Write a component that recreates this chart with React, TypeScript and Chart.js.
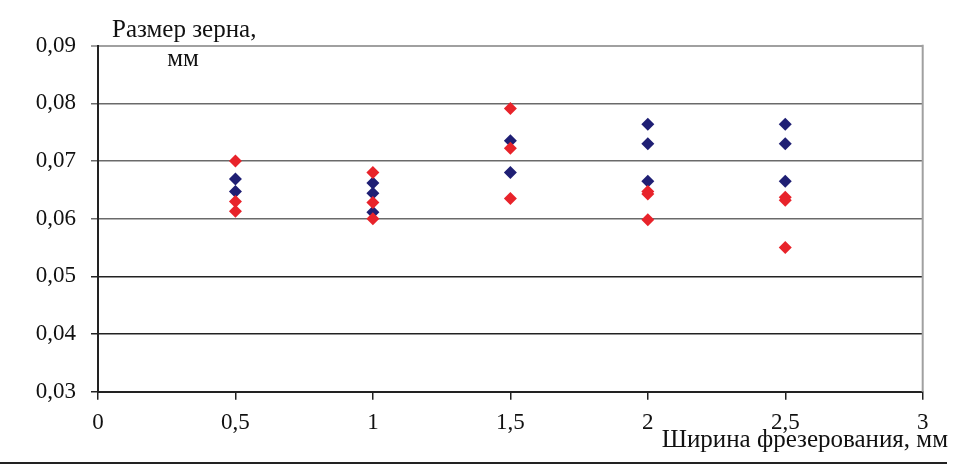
import React, { useEffect, useRef } from "react";
import { Chart, registerables } from "chart.js";

Chart.register(...registerables);

const xBlue = [0.5, 0.5, 1, 1, 1, 1.5, 1.5, 2, 2, 2, 2.5, 2.5, 2.5];
const yBlue = [0.0669, 0.0647, 0.0662, 0.0644, 0.0611, 0.0735, 0.068, 0.0764, 0.073, 0.0665, 0.0764, 0.073, 0.0665];
const xRed = [0.5, 0.5, 0.5, 1, 1, 1, 1.5, 1.5, 1.5, 2, 2, 2, 2.5, 2.5, 2.5];
const yRed = [0.07, 0.063, 0.0613, 0.068, 0.0628, 0.06, 0.0791, 0.0722, 0.0635, 0.0647, 0.0643, 0.0598, 0.0637, 0.0632, 0.055];
const yTitle = ["Размер зерна,", "мм"];
const xTitle = "Ширина фрезерования, мм";

const FONT = "'Liberation Serif', 'Times New Roman', serif";

export default function App() {
  const ref = useRef<HTMLCanvasElement | null>(null);
  useEffect(() => {
    document.body.style.margin = "0";
    const canvas = ref.current!;
    const extras = {
      id: "extras",
      afterDraw(chart: any) {
        const ctx = chart.ctx;
        const a = chart.chartArea;
        ctx.save();
        ctx.strokeStyle = "#a0a0a0";
        ctx.lineWidth = 2;
        ctx.beginPath();
        ctx.moveTo(a.right, a.top - 1);
        ctx.lineTo(a.right, a.bottom);
        ctx.stroke();
        ctx.strokeStyle = "#222";
        ctx.lineWidth = 2;
        ctx.beginPath();
        ctx.moveTo(0, 463);
        ctx.lineTo(947, 463);
        ctx.stroke();
        ctx.fillStyle = "#111";
        ctx.font = "25px " + FONT;
        ctx.textBaseline = "alphabetic";
        ctx.textAlign = "left";
        ctx.fillText(yTitle[0], 112, 37);
        ctx.textAlign = "center";
        ctx.fillText(yTitle[1], 183, 66);
        ctx.textAlign = "right";
        ctx.fillText(xTitle, 948, 447);
        ctx.restore();
      },
    };
    const chart = new Chart(canvas, {
      type: "scatter",
      data: {
        datasets: [
          {
            label: "red",
            data: xRed.map((x, i) => ({ x, y: yRed[i] })),
            backgroundColor: "#e8232a",
            borderColor: "#e8232a",
            pointStyle: "rectRot",
            pointRadius: 6.5,
            borderWidth: 0,
          },
          {
            label: "blue",
            data: xBlue.map((x, i) => ({ x, y: yBlue[i] })),
            backgroundColor: "#1f1f74",
            borderColor: "#1f1f74",
            pointStyle: "rectRot",
            pointRadius: 6.5,
            borderWidth: 0,
          },
        ],
      },
      options: {
        animation: false,
        responsive: false,
        layout: { padding: { left: 0, top: 45.7, right: 44.3, bottom: 0 } },
        plugins: { legend: { display: false }, tooltip: { enabled: false } },
        scales: {
          x: {
            type: "linear",
            min: 0,
            max: 3,
            afterFit: (s: any) => {
              s.height = 73.3;
            },
            ticks: {
              stepSize: 0.5,
              color: "#111",
              font: { family: FONT, size: 23 },
              padding: 9,
              maxRotation: 0,
              callback: (v: any) => String(v).replace(".", ","),
            },
            grid: { drawOnChartArea: false, drawTicks: true, tickLength: 8, color: "#222", lineWidth: 1.5 },
            border: { color: "#222", width: 2 },
          },
          y: {
            min: 0.03,
            max: 0.09,
            afterFit: (s: any) => {
              s.width = 98;
            },
            ticks: {
              stepSize: 0.01,
              color: "#111",
              font: { family: FONT, size: 23 },
              padding: 15,
              callback: (v: any) => Number(v).toFixed(2).replace(".", ","),
            },
            grid: {
              tickLength: 7,
              color: (c: any) => {
                const v = Math.round((c.tick?.value ?? 0) * 100);
                if (v === 9) return "#a0a0a0";
                if (v >= 6) return "#6a6a6a";
                return "#222";
              },
              lineWidth: (c: any) => {
                const v = Math.round((c.tick?.value ?? 0) * 100);
                return v === 9 ? 2 : 1.5;
              },
            },
            border: { color: "#222", width: 2 },
          },
        },
      },
      plugins: [extras],
    } as any);
    return () => chart.destroy();
  }, []);
  return <canvas ref={ref} width={967} height={465} style={{ display: "block" }} />;
}
